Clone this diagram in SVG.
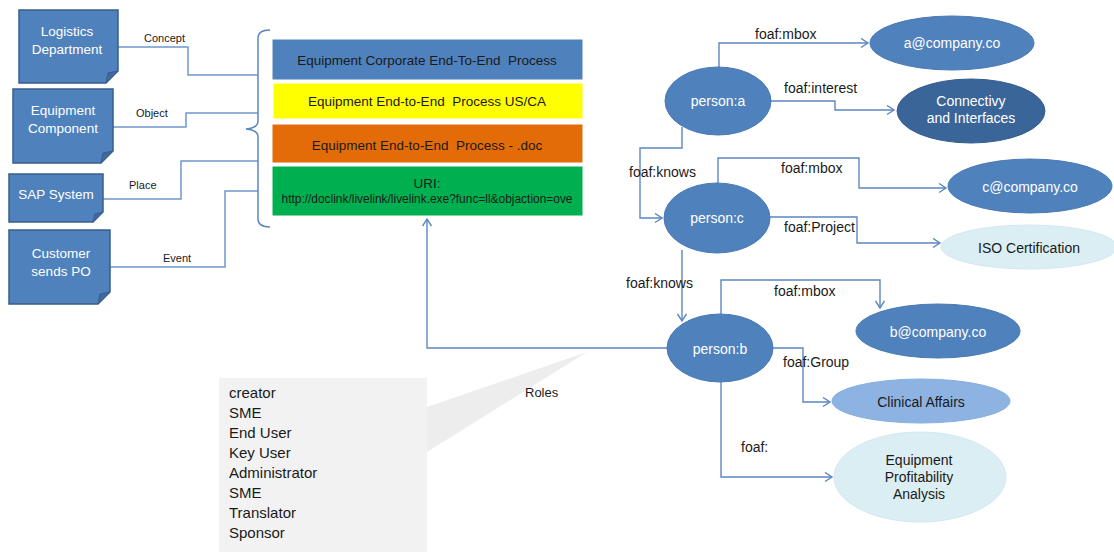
<svg xmlns="http://www.w3.org/2000/svg" width="1114" height="552" viewBox="0 0 1114 552">
  <defs>
    <marker id="arrow" markerUnits="userSpaceOnUse" markerWidth="12" markerHeight="12" refX="8" refY="5" orient="auto">
      <path d="M1,0.5 L8,5 L1,9.5" fill="none" stroke="#5B87C2" stroke-width="1.4"/>
    </marker>
    <style>
      text { font-family: "Liberation Sans", Arial, sans-serif; }
      .note { fill: #4F81BD; stroke: #385D8A; stroke-width: 1.5; }
      .fold { fill: #3F6A9E; stroke: #385D8A; stroke-width: 1; }
      .noteText { fill: #ffffff; font-size: 13.5px; text-anchor: middle; }
      .edgeLabel { fill: #1a1a1a; font-size: 11px; }
      .relLabel { fill: #1a1a1a; font-size: 14px; }
      .link { fill: none; stroke: #6F98CC; stroke-width: 1.5; }
      .rel { fill: none; stroke: #5B87C2; stroke-width: 1.4; }
      .band { stroke: #ffffff; stroke-width: 1; }
      .bandText { fill: #1a1a1a; font-size: 13.5px; text-anchor: middle; white-space: pre; }
      .person { fill: #4F81BD; stroke: #4A7AB3; stroke-width: 1; }
      .dark { fill: #3A6598; stroke: #365E8E; stroke-width: 1; }
      .mid { fill: #8DB3E2; stroke: #87AEDD; stroke-width: 1; }
      .pale { fill: #DAEEF3; stroke: #D3E8EF; stroke-width: 1; }
      .white { fill: #ffffff; font-size: 14px; text-anchor: middle; }
      .ink { fill: #1a1a1a; font-size: 14px; text-anchor: middle; }
      .roles { fill: #1a1a1a; font-size: 15px; }
    </style>
  </defs>

  <rect width="1114" height="552" fill="#ffffff"/>

  <!-- roles callout -->
  <g id="roles-callout">
    <polygon points="427,407 587,352 427,452" fill="#EDEDED"/>
    <rect x="219" y="378" width="208" height="174" fill="#F2F2F2"/>
    <text class="roles" x="229" y="398">creator</text>
    <text class="roles" x="229" y="418">SME</text>
    <text class="roles" x="229" y="438">End User</text>
    <text class="roles" x="229" y="458">Key User</text>
    <text class="roles" x="229" y="478">Administrator</text>
    <text class="roles" x="229" y="498">SME</text>
    <text class="roles" x="229" y="518">Translator</text>
    <text class="roles" x="229" y="538">Sponsor</text>
    <text x="525" y="397" fill="#1a1a1a" font-size="13px">Roles</text>
  </g>

  <!-- connectors -->
  <g id="connectors">
    <!-- left notes to the brace -->
    <polyline class="link" points="118,47 188,47 188,75 258,75"/>
    <polyline class="link" points="113,127 186,127 186,113 258,113"/>
    <polyline class="link" points="103,199 181,199 181,161 258,161"/>
    <polyline class="link" points="110,267 225,267 225,191 258,191"/>
    <text class="edgeLabel" x="144" y="42">Concept</text>
    <text class="edgeLabel" x="136" y="117">Object</text>
    <text class="edgeLabel" x="129" y="189">Place</text>
    <text class="edgeLabel" x="163" y="262">Event</text>

    <!-- brace -->
    <path d="M270,30 Q258,30 258,38 L258,121 Q258,128 246,129 Q258,130 258,137 L258,219 Q258,227 270,227" fill="none" stroke="#5B87C2" stroke-width="1.5"/>

    <!-- person:a -->
    <polyline class="rel" points="719,67 719,43 868,43" marker-end="url(#arrow)"/>
    <polyline class="rel" points="771,101 835,101 835,110 894,110" marker-end="url(#arrow)"/>
    <polyline class="rel" points="682,127 682,148 640,148 640,218 662,218" marker-end="url(#arrow)"/>
    <text class="relLabel" x="755" y="39">foaf:mbox</text>
    <text class="relLabel" x="784" y="93">foaf:interest</text>
    <text class="relLabel" x="629" y="177">foaf:knows</text>

    <!-- person:c -->
    <polyline class="rel" points="718,184 718,158 859,158 859,188 946,188" marker-end="url(#arrow)"/>
    <polyline class="rel" points="770,217 857,217 857,243 940,243" marker-end="url(#arrow)"/>
    <polyline class="rel" points="682,250 682,321" marker-end="url(#arrow)"/>
    <text class="relLabel" x="781" y="173">foaf:mbox</text>
    <text class="relLabel" x="784" y="232">foaf:Project</text>
    <text class="relLabel" x="626" y="288">foaf:knows</text>

    <!-- person:b -->
    <polyline class="rel" points="721,314 721,280 880,280 880,308" marker-end="url(#arrow)"/>
    <polyline class="rel" points="773,348 803,348 803,402 830,402" marker-end="url(#arrow)"/>
    <polyline class="rel" points="721,382 721,477 832,477" marker-end="url(#arrow)"/>
    <polyline class="rel" points="667,348 427,348 427,219" marker-end="url(#arrow)"/>
    <text class="relLabel" x="774" y="296">foaf:mbox</text>
    <text class="relLabel" x="783" y="367">foaf:Group</text>
    <text class="relLabel" x="741" y="452">foaf:</text>
  </g>

  <!-- left notes -->
  <g id="logistics-department">
    <path class="note" d="M19,10 H118 V71 L106,83 H19 Z"/>
    <path class="fold" d="M118,71 L106,83 L108,73 Z"/>
    <text class="noteText" x="67" y="36">Logistics</text>
    <text class="noteText" x="67" y="54">Department</text>
  </g>
  <g id="equipment-component">
    <path class="note" d="M13,89 H113 V151 L101,163 H13 Z"/>
    <path class="fold" d="M113,151 L101,163 L103,153 Z"/>
    <text class="noteText" x="63" y="115">Equipment</text>
    <text class="noteText" x="63" y="133">Component</text>
  </g>
  <g id="sap-system">
    <path class="note" d="M9,174 H103 V212 L93,222 H9 Z"/>
    <path class="fold" d="M103,212 L93,222 L95,214 Z"/>
    <text class="noteText" x="56" y="199">SAP System</text>
  </g>
  <g id="customer-sends-po">
    <path class="note" d="M9,230 H110 V292 L98,304 H9 Z"/>
    <path class="fold" d="M110,292 L98,304 L100,294 Z"/>
    <text class="noteText" x="61" y="258">Customer</text>
    <text class="noteText" x="61" y="276">sends PO</text>
  </g>

  <!-- process stack -->
  <g id="corporate-process">
    <rect class="band" x="272" y="39" width="311" height="41" fill="#4F81BD"/>
    <text class="bandText" x="427" y="65" xml:space="preserve">Equipment Corporate End-To-End  Process</text>
  </g>
  <g id="process-us-ca">
    <rect class="band" x="273" y="83" width="310" height="36" fill="#FFFF00"/>
    <text class="bandText" x="427" y="106" xml:space="preserve">Equipment End-to-End  Process US/CA</text>
  </g>
  <g id="process-doc">
    <rect class="band" x="272" y="124" width="311" height="39" fill="#E36C09"/>
    <text class="bandText" x="427" y="150" xml:space="preserve">Equipment End-to-End  Process - .doc</text>
  </g>
  <g id="process-uri">
    <rect class="band" x="272" y="166" width="311" height="50" fill="#00B050"/>
    <text class="bandText" x="427" y="188" font-size="12px">URI:</text>
    <text class="bandText" x="427" y="203" font-size="11.5px" textLength="291" lengthAdjust="spacingAndGlyphs">http://doclink/livelink/livelink.exe?func=ll&amp;objaction=ove</text>
  </g>

  <!-- people and their properties -->
  <g id="person-a">
    <ellipse class="person" cx="718" cy="101" rx="53" ry="34"/>
    <text class="white" x="718" y="106">person:a</text>
  </g>
  <g id="mbox-a">
    <ellipse class="person" cx="952" cy="43" rx="82" ry="27"/>
    <text class="white" x="952" y="48">a@company.co</text>
  </g>
  <g id="interest-a">
    <ellipse class="dark" cx="971" cy="111" rx="74" ry="32"/>
    <text class="white" x="971" y="106" font-size="13px">Connectivy</text>
    <text class="white" x="971" y="123" font-size="13px">and Interfaces</text>
  </g>
  <g id="person-c">
    <ellipse class="person" cx="717" cy="218" rx="53" ry="35"/>
    <text class="white" x="717" y="223">person:c</text>
  </g>
  <g id="mbox-c">
    <ellipse class="person" cx="1030" cy="186" rx="82" ry="27"/>
    <text class="white" x="1030" y="192">c@company.co</text>
  </g>
  <g id="project-c">
    <ellipse class="pale" cx="1029" cy="247" rx="88" ry="22"/>
    <text class="ink" x="1029" y="253">ISO Certification</text>
  </g>
  <g id="person-b">
    <ellipse class="person" cx="720" cy="348" rx="53" ry="34"/>
    <text class="white" x="720" y="354">person:b</text>
  </g>
  <g id="mbox-b">
    <ellipse class="person" cx="938" cy="331" rx="82" ry="27"/>
    <text class="white" x="938" y="337">b@company.co</text>
  </g>
  <g id="group-b">
    <ellipse class="mid" cx="921" cy="401" rx="89" ry="22"/>
    <text class="ink" x="921" y="407">Clinical Affairs</text>
  </g>
  <g id="profitability-b">
    <ellipse class="pale" cx="920" cy="477" rx="86" ry="45"/>
    <text class="ink" x="919" y="465" font-size="13px">Equipment</text>
    <text class="ink" x="919" y="482" font-size="13px">Profitability</text>
    <text class="ink" x="919" y="499" font-size="13px">Analysis</text>
  </g>
</svg>
